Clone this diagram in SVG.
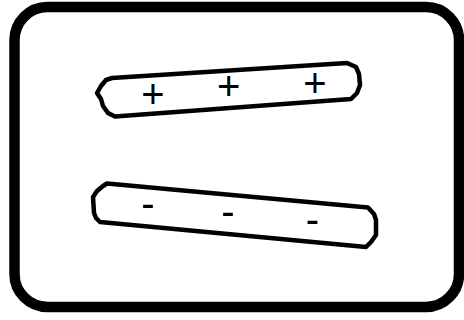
<svg xmlns="http://www.w3.org/2000/svg" width="464" height="320" viewBox="0 0 464 320">
<style>
.frame{fill:#fff;stroke:#000;stroke-width:10.5}
.bar{fill:#fff;stroke:#000;stroke-width:4.5;stroke-linejoin:round}
.sign{font-family:"Liberation Sans",Arial,sans-serif;font-size:40px;fill:#000;text-anchor:middle}
</style>
<rect width="464" height="320" fill="#fff"/>
<g id="frame"><rect class="frame" x="14.5" y="7" width="444.5" height="300" rx="33" ry="33"/></g>
<g id="positive-bar">
<path class="bar" d="M112,78 L347,63 L356,67 L359,74 L360,85 L357,93 L351,99 L115,116.5 L108,113 L103,106 L101,99 L97,93 L101,86 L106,80 Z"/>
<text class="sign" x="153" y="108.4">+</text>
<text class="sign" x="228.8" y="100.1">+</text>
<text class="sign" x="315" y="97.4">+</text>
</g>
<g id="negative-bar">
<path class="bar" d="M107,183.5 L368,207.5 L374,214 L376,220 L376,235 L371,242 L366,247 L100,222 L96,218 L94,213 L93,197 L97,191 L103,186 Z"/>
<text class="sign" x="148" y="216.9">-</text>
<text class="sign" x="228" y="225.2">-</text>
<text class="sign" x="312.5" y="232.5">-</text>
</g>
<g id="connectors"/>
</svg>
